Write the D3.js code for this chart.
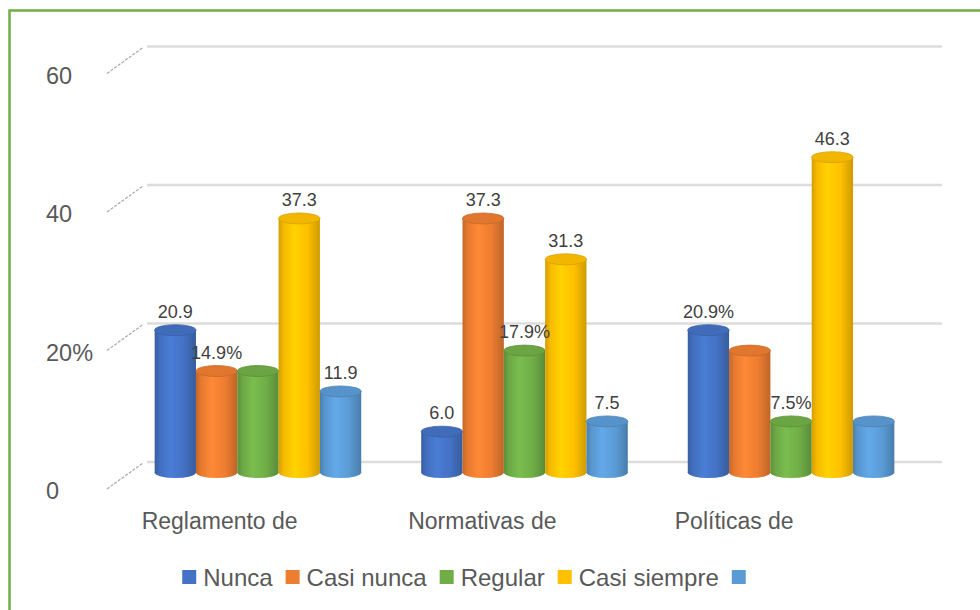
<!DOCTYPE html>
<html>
<head>
<meta charset="utf-8">
<script src="https://cdn.jsdelivr.net/npm/d3@7"></script>
<style>
  html, body { margin: 0; padding: 0; background: #fff; }
  svg { display: block; font-family: "Liberation Sans", Arial, sans-serif; }
</style>
</head>
<body>
<svg id="chart" width="980" height="610"></svg>
<script>
// ---- data ----
const categories = ["Reglamento de", "Normativas de", "Políticas de"];
const seriesNames = ["Nunca", "Casi nunca", "Regular", "Casi siempre", ""];
const seriesColors = ["#4472C4", "#ED7D31", "#70AD47", "#FFC000", "#5B9BD5"];

const nunca       = [20.9, 6.0, 20.9];
const casiNunca   = [14.9, 37.3, 17.9];
const regular     = [14.9, 17.9, 7.5];
const casiSiempre = [37.3, 31.3, 46.3];
const serie5      = [11.9, 7.5, 7.5];

const labelsNunca       = ["20.9", "6.0", "20.9%"];
const labelsCasiNunca   = ["14.9%", "37.3", ""];
const labelsRegular     = ["", "17.9%", "7.5%"];
const labelsCasiSiempre = ["37.3", "31.3", "46.3"];
const labelsSerie5      = ["11.9", "7.5", ""];

const yTicks = [0, 20, 40, 60];
const yTickLabels = ["0", "20%", "40", "60"];

const seriesValues = [nunca, casiNunca, regular, casiSiempre, serie5];
const seriesLabels = [labelsNunca, labelsCasiNunca, labelsRegular, labelsCasiSiempre, labelsSerie5];

// ---- layout ----
const svg = d3.select("#chart");
svg.append("rect").attr("width", 980).attr("height", 610).attr("fill", "#fff");
svg.append("rect")
  .attr("x", 9.5).attr("y", 10.5).attr("width", 985).attr("height", 620)
  .attr("fill", "none").attr("stroke", "#70AD47").attr("stroke-width", 2.5);

const depthX = 40, depthY = 27;          // back wall offset from front plane
const backLeft = 147, backRight = 942;

const yBack = d3.scaleLinear().domain([0, 60]).range([462, 46.5]);
const yBar = d3.scaleLinear().domain([0, 60]).range([472.5, 472.5 - 60 * 6.81]);

const x0 = d3.scaleBand().domain(categories).range([128, 921])
  .paddingInner(0.225).paddingOuter(0.1);
const x1 = d3.scaleBand().domain(d3.range(seriesNames.length)).range([0, x0.bandwidth()]);

// gradients
const defs = svg.append("defs");
seriesColors.forEach((c, i) => {
  const g = defs.append("linearGradient").attr("id", "cyl" + i)
    .attr("x1", "0%").attr("x2", "100%").attr("y1", "0%").attr("y2", "0%");
  const base = d3.color(c);
  g.append("stop").attr("offset", "0%").attr("stop-color", base.darker(0.55));
  g.append("stop").attr("offset", "12%").attr("stop-color", base.darker(0.1));
  g.append("stop").attr("offset", "38%").attr("stop-color", base.brighter(0.25));
  g.append("stop").attr("offset", "70%").attr("stop-color", base);
  g.append("stop").attr("offset", "100%").attr("stop-color", base.darker(0.6));
});

// gridlines (back wall) and depth diagonals
const grid = svg.append("g");
yTicks.forEach(t => {
  const yb = yBack(t);
  grid.append("line")
    .attr("x1", backLeft).attr("x2", backRight).attr("y1", yb).attr("y2", yb)
    .attr("stroke", "#dcdcdc").attr("stroke-width", 2.5);
  grid.append("line")
    .attr("x1", backLeft - depthX).attr("y1", yb + depthY)
    .attr("x2", backLeft - 4).attr("y2", yb + 1)
    .attr("stroke", "#a8a8a8").attr("stroke-width", 1.2)
    .attr("stroke-dasharray", "3,1.5");
});

// y tick labels (front plane)
svg.append("g").selectAll("text").data(yTicks).join("text")
  .attr("x", 46).attr("y", d => yBack(d) + 37)
  .attr("font-size", 23.5).attr("fill", "#595959")
  .text((d, i) => yTickLabels[i]);

// cylinders
const ry = 5.5;
const bars = svg.append("g");
categories.forEach((cat, ci) => {
  seriesValues.forEach((vals, si) => {
    const v = vals[ci];
    const w = x1.bandwidth();
    const x = x0(cat) + x1(si);
    const cx = x + w / 2;
    const yTop = yBar(v), yBot = yBar(0);
    const g = bars.append("g");
    g.append("ellipse").attr("cx", cx).attr("cy", yBot).attr("rx", w / 2).attr("ry", ry)
      .attr("fill", `url(#cyl${si})`);
    g.append("rect").attr("x", x).attr("y", yTop).attr("width", w).attr("height", yBot - yTop)
      .attr("fill", `url(#cyl${si})`);
    g.append("ellipse").attr("cx", cx).attr("cy", yTop).attr("rx", w / 2).attr("ry", ry)
      .attr("fill", d3.color(seriesColors[si]).darker(0.15))
      .attr("stroke", d3.color(seriesColors[si]).darker(0.5)).attr("stroke-width", 0.8);
  });
});

// value labels
const vlab = svg.append("g");
categories.forEach((cat, ci) => {
  seriesLabels.forEach((labs, si) => {
    const t = labs[ci];
    if (!t) return;
    const cx = x0(cat) + x1(si) + x1.bandwidth() / 2;
    vlab.append("text")
      .attr("x", cx).attr("y", yBar(seriesValues[si][ci]) - ry - 7)
      .attr("text-anchor", "middle").attr("font-size", 18).attr("fill", "#404040")
      .text(t);
  });
});

// category labels
svg.append("g").selectAll("text").data(categories).join("text")
  .attr("x", d => x0(d) - 13).attr("y", 529)
  .attr("font-size", 23).attr("fill", "#595959")
  .text(d => d);

// legend
const legFont = 24, sq = 14, gapSq = 7, gapItem = 13;
const measure = svg.append("text").attr("font-size", legFont).attr("opacity", 0);
const widths = seriesNames.map(n => { measure.text(n); return n ? measure.node().getComputedTextLength() : 0; });
measure.remove();
const itemW = widths.map(w => sq + (w ? gapSq + w + gapItem : 0));
const totalW = d3.sum(itemW);
let lx = 464 - totalW / 2;
const leg = svg.append("g");
seriesNames.forEach((n, i) => {
  leg.append("rect").attr("x", lx).attr("y", 570).attr("width", sq).attr("height", sq)
    .attr("fill", seriesColors[i]);
  if (n) {
    leg.append("text").attr("x", lx + sq + gapSq).attr("y", 586)
      .attr("font-size", legFont).attr("fill", "#595959").text(n);
  }
  lx += itemW[i];
});
</script>
</body>
</html>
